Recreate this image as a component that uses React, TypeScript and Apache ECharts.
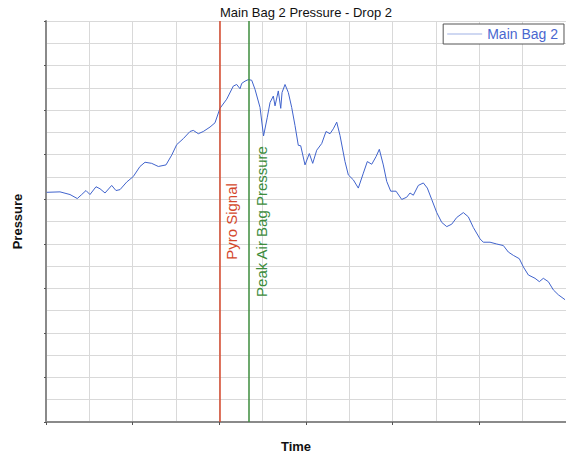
import React, { useEffect, useRef } from "react";
import * as echarts from "echarts";

const chartTitle = "Main Bag 2 Pressure - Drop 2";
const seriesName = "Main Bag 2";
const xAxisName = "Time";
const yAxisName = "Pressure";

const time = [
  0.016, 0.323, 0.554, 0.722, 0.824, 0.923, 1.015, 1.154, 1.246, 1.362,
  1.516, 1.615, 1.708, 1.862, 2.015, 2.169, 2.285, 2.439, 2.592, 2.769,
  2.901, 3.016, 3.169, 3.323, 3.399, 3.515, 3.63, 3.785, 3.9, 4.015,
  4.17, 4.323, 4.401, 4.477, 4.517, 4.593, 4.669, 4.747, 4.824, 4.939,
  5.02, 5.107, 5.17, 5.246, 5.285, 5.361, 5.417, 5.447, 5.516, 5.592,
  5.67, 5.746, 5.822, 5.878, 5.977, 6.077, 6.155, 6.247, 6.363, 6.462,
  6.554, 6.63, 6.709, 6.785, 6.9, 6.977, 7.092, 7.207, 7.323, 7.415,
  7.517, 7.616, 7.692, 7.784, 7.863, 7.955, 8.078, 8.209, 8.324, 8.4,
  8.477, 8.592, 8.708, 8.8, 8.901, 9.017, 9.132, 9.248, 9.363, 9.478,
  9.631, 9.746, 9.862, 10.016, 10.092, 10.247, 10.401, 10.554, 10.669, 10.785,
  10.923, 11.016, 11.131, 11.285, 11.385, 11.477, 11.592, 11.708, 11.823, 11.978,
];

const pressure = [
  10.31, 10.33, 10.21, 10.03, 10.21, 10.39, 10.21, 10.56, 10.47, 10.28,
  10.62, 10.39, 10.43, 10.77, 11.02, 11.47, 11.66, 11.61, 11.47, 11.54,
  11.98, 12.45, 12.72, 13.04, 13.09, 12.94, 13.04, 13.24, 13.43, 14.08,
  14.49, 15.08, 15.15, 14.96, 15.2, 15.3, 15.37, 15.34, 14.93, 14.12,
  12.84, 13.68, 14.34, 14.63, 14.19, 14.86, 14.08, 14.79, 15.15, 14.79,
  14.12, 13.31, 12.42, 12.4, 11.54, 12.05, 11.61, 12.2, 12.5, 13.04,
  12.94, 13.16, 13.46, 12.86, 11.69, 11.09, 10.87, 10.5, 11.17, 11.69,
  11.57, 11.91, 12.24, 11.54, 10.8, 10.36, 10.36, 9.99, 10.09, 10.28,
  10.18, 10.62, 10.73, 10.5, 9.99, 9.4, 8.96, 8.77, 8.88, 9.18,
  9.4, 9.21, 8.73, 8.22, 8.07, 8.07, 7.99, 7.92, 7.63, 7.48,
  7.33, 6.96, 6.6, 6.45, 6.3, 6.45, 6.3, 5.93, 5.71, 5.49,
];

const eventTimes = [4, 4.69];
const eventLabels = ["Pyro Signal", "Peak Air Bag Pressure"];
const eventColors = ["#d4472b", "#3d8c3d"];

const FONT = "'Liberation Sans', Arial, sans-serif";

export default function App() {
  const ref = useRef<HTMLDivElement>(null);

  useEffect(() => {
    if (!ref.current) return;
    const chart = echarts.init(ref.current, undefined, { renderer: "svg" });
    const data = time.map((t, i) => [t, pressure[i]]);
    chart.setOption({
      animation: false,
      backgroundColor: "#ffffff",
      title: {
        text: chartTitle,
        left: 306,
        textAlign: "center",
        top: 6,
        padding: 0,
        textStyle: { fontFamily: FONT, fontSize: 13, fontWeight: "normal", color: "#111" },
      },
      legend: {
        right: 2,
        top: 24,
        padding: [3, 6, 3, 4],
        borderColor: "#555",
        borderWidth: 1,
        backgroundColor: "#fff",
        itemWidth: 35,
        itemHeight: 14,
        itemGap: 5,
        textStyle: { fontFamily: FONT, fontSize: 14, color: "#4a67cf" },
        data: [{ name: seriesName, icon: "path://M0,50 L100,50 L100,52 L0,52 Z" }],
      },
      grid: { left: 46, right: 0, top: 21, bottom: 31, containLabel: false },
      xAxis: {
        type: "value",
        min: 0,
        max: 12,
        interval: 2,
        name: xAxisName,
        nameLocation: "middle",
        nameGap: 18,
        nameTextStyle: {
          fontFamily: FONT,
          fontSize: 13,
          fontWeight: "bold",
          color: "#111",
          padding: [0, 20, 0, 0],
        },
        axisLine: { lineStyle: { color: "#8a8a8a", width: 2 } },
        axisTick: { show: true, length: 3, lineStyle: { color: "#555" } },
        axisLabel: { show: false },
        splitLine: { show: true, lineStyle: { color: "#d9d9d9", width: 1 } },
        minorTick: { show: false, splitNumber: 2 },
        minorSplitLine: { show: true, lineStyle: { color: "#d9d9d9", width: 1 } },
      },
      yAxis: {
        type: "value",
        min: 0,
        max: 18,
        interval: 2,
        name: yAxisName,
        nameLocation: "middle",
        nameGap: 22,
        nameTextStyle: { fontFamily: FONT, fontSize: 13, fontWeight: "bold", color: "#111" },
        axisLine: { show: true, lineStyle: { color: "#8a8a8a", width: 2 } },
        axisTick: { show: true, length: 2, lineStyle: { color: "#555" } },
        axisLabel: { show: false },
        splitLine: { show: true, lineStyle: { color: "#d9d9d9", width: 1 } },
        minorTick: { show: false, splitNumber: 2 },
        minorSplitLine: { show: true, lineStyle: { color: "#d9d9d9", width: 1 } },
      },
      series: [
        {
          name: seriesName,
          type: "line",
          data,
          symbol: "none",
          showSymbol: false,
          lineStyle: { color: "#4063cc", width: 1 },
          itemStyle: { color: "#4063cc" },
          markLine: {
            silent: true,
            symbol: ["none", "none"],
            data: eventTimes.map((t, i) => ({
              xAxis: t,
              lineStyle: { color: eventColors[i], width: 1.5, type: "solid" },
              label: {
                show: true,
                formatter: eventLabels[i],
                position: "insideMiddleBottom",
                distance: 5,
                color: eventColors[i],
                fontFamily: FONT,
                fontSize: 15,
              },
            })),
          },
        },
      ],
    });
    return () => chart.dispose();
  }, []);

  return (
    <div
      ref={ref}
      style={{ position: "absolute", left: 0, top: 0, width: 566, height: 458 }}
    />
  );
}
